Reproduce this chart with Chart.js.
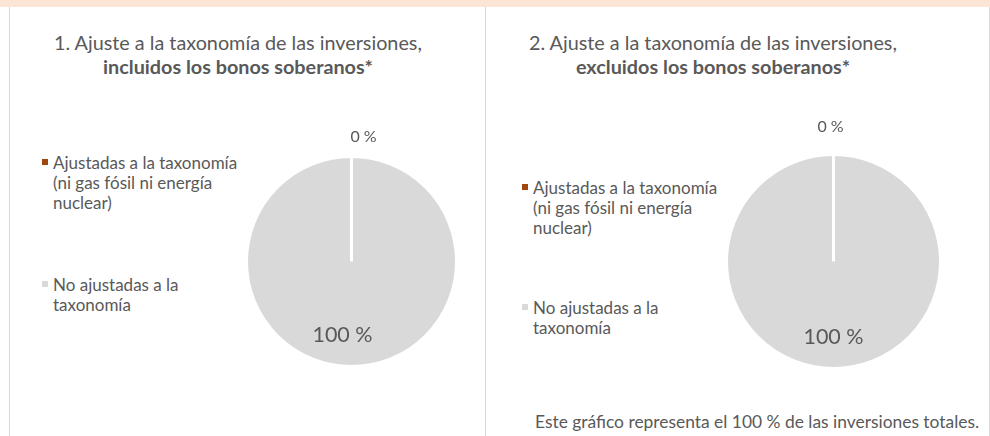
<!DOCTYPE html>
<html>
<head>
<meta charset="utf-8">
<script src="https://cdn.jsdelivr.net/npm/chart.js@4.4.1/dist/chart.umd.min.js"></script>
<style>
    body { margin: 0; background: #fff; font-family: Lato, "Noto Sans", sans-serif; color: #595959; }
    #page { position: relative; width: 990px; height: 436px; overflow: hidden; }
    .band { position: absolute; left: 0; top: 0; width: 990px; height: 7px; background: #FBE5D6; }
    .panel { position: absolute; top: 7px; height: 440px; border-left: 1px solid #D9D9D9; border-right: 1px solid #D9D9D9; box-sizing: border-box; }
    .title { position: absolute; width: 440px; text-align: center; font-size: 19.8px; line-height: 24px; }
    .title b { font-weight: bold; }
    .legend-item { position: absolute; font-size: 17px; line-height: 20px; width: 196px; }
    .legend-item span.box { position: absolute; left: -11px; top: 6px; width: 6px; height: 6px; }
    .footer { position: absolute; left: 535px; top: 412px; font-size: 17.4px; line-height: 20px; white-space: nowrap; }
    canvas { position: absolute; }
</style>
</head>
<body>
<div id="page">
    <div class="band"></div>
    <div class="panel" style="left: 9px; width: 477px;"></div>
    <div class="panel" style="left: 485px; width: 505px;"></div>

    <div class="title" style="left: 18px; top: 30px;">1. Ajuste a la taxonomía de las inversiones,<br><b>incluidos los bonos soberanos*</b></div>
    <div class="title" style="left: 493px; top: 30px;">2. Ajuste a la taxonomía de las inversiones,<br><b>excluidos los bonos soberanos*</b></div>

    <div id="legend1"></div>
    <div id="legend2"></div>

    <canvas id="pie1" width="299" height="299" style="left: 202px; top: 112px;"></canvas>
    <canvas id="pie2" width="299" height="299" style="left: 684px; top: 112px;"></canvas>

    <div class="footer">Este gráfico representa el 100 % de las inversiones totales.</div>
</div>

<script>
// categorías y valores (%)
var categories = ['Ajustadas a la taxonomía (ni gas fósil ni energía nuclear)', 'No ajustadas a la taxonomía'];
var withSovereign = [0, 100];
var withoutSovereign = [0, 100];
var sliceColors = ['#A0470F', '#D9D9D9'];

// leyenda en HTML
function buildLegend(id, left, tops) {
    var box = document.getElementById(id);
    categories.forEach(function (cat, i) {
        var item = document.createElement('div');
        item.className = 'legend-item';
        item.style.left = left + 'px';
        item.style.top = tops[i] + 'px';
        item.innerHTML = '<span class="box" style="background:' + sliceColors[i] + '"></span>' + cat;
        box.appendChild(item);
    });
}
buildLegend('legend1', 53, [153, 275]);
buildLegend('legend2', 533, [178, 298]);

// etiquetas de porcentaje
var pctLabels = {
    id: 'pctLabels',
    afterDatasetsDraw: function (chart, args, opts) {
        var ctx = chart.ctx;
        var meta = chart.getDatasetMeta(0);
        var values = chart.data.datasets[0].data;
        meta.data.forEach(function (arc, i) {
            var p = arc.getProps(['x', 'y', 'startAngle', 'endAngle', 'outerRadius'], true);
            var mid = (p.startAngle + p.endAngle) / 2;
            var outside = values[i] === 0;
            var d = outside ? p.outerRadius + opts.outside : p.outerRadius * opts.inside;
            var x = p.x + Math.cos(mid) * d + (outside ? opts.dxOut : opts.dxIn);
            var y = p.y + Math.sin(mid) * d;
            ctx.save();
            ctx.font = (outside ? 16 : 21.5) + 'px Lato';
            ctx.fillStyle = '#595959';
            ctx.textAlign = 'center';
            ctx.textBaseline = 'middle';
            ctx.fillText(values[i] + ' %', x, y);
            ctx.restore();
        });
    }
};

function makePie(canvasId, values, radius, labelOpts) {
    var ctx = document.getElementById(canvasId).getContext('2d');
    // el orden se invierte para que la porción de 0 % se dibuje encima
    return new Chart(ctx, {
        type: 'pie',
        data: {
            labels: categories.slice().reverse(),
            datasets: [{
                data: values.slice().reverse(),
                backgroundColor: sliceColors.slice().reverse(),
                borderColor: '#FFFFFF',
                borderWidth: 3,
                radius: radius
            }]
        },
        options: {
            responsive: false,
            animation: false,
            plugins: {
                legend: { display: false },
                tooltip: { enabled: false },
                pctLabels: labelOpts
            }
        },
        plugins: [pctLabels]
    });
}

makePie('pie1', withSovereign, 105, { outside: 20, inside: 0.70, dxOut: 12, dxIn: -9 });
makePie('pie2', withoutSovereign, 107, { outside: 28, inside: 0.71, dxOut: -3, dxIn: 0 });
</script>
</body>
</html>
